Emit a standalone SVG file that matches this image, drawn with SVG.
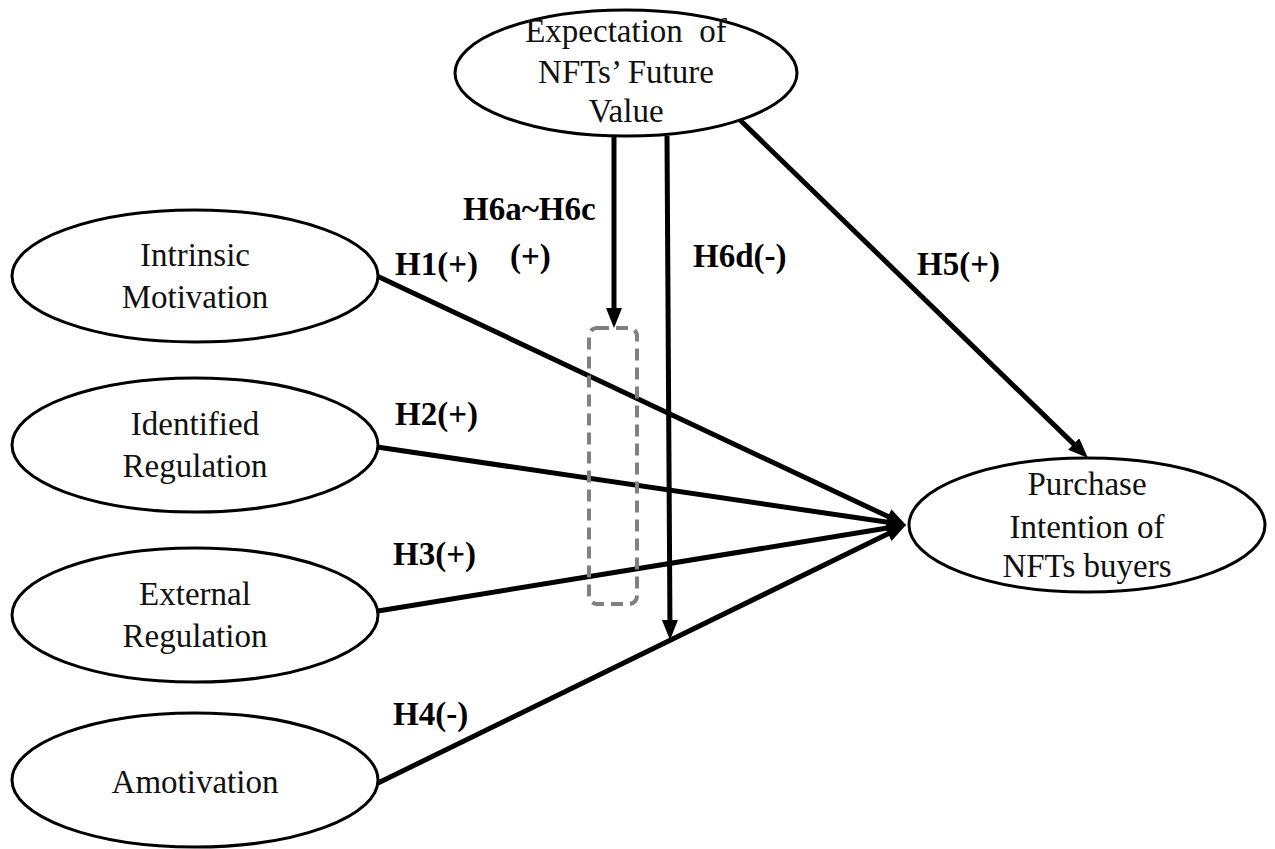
<svg xmlns="http://www.w3.org/2000/svg" width="1275" height="849" viewBox="0 0 1275 849">
<style>
.node ellipse{fill:#fff;stroke:#000;stroke-width:3}
.node text{font-family:'Times New Roman','Liberation Serif','DejaVu Serif',serif;font-size:33px;fill:#111;text-anchor:middle}
.lbl{font-family:'Times New Roman','Liberation Serif','DejaVu Serif',serif;font-size:33px;font-weight:bold;fill:#000}
.conn line{stroke:#000;stroke-width:5;fill:none}
</style>
<defs>
<marker id="ah" markerUnits="userSpaceOnUse" markerWidth="22" markerHeight="18" refX="12" refY="8" orient="auto">
<path d="M0,0 L20,8 L0,16 z" fill="#000"/>
</marker>
</defs>
<rect width="1275" height="849" fill="#fff"/>
<g id="connectors" class="conn">
<line x1="377" y1="276" x2="898.8" y2="521.6" marker-end="url(#ah)"/>
<line x1="377" y1="447" x2="898.1" y2="523.8" marker-end="url(#ah)"/>
<line x1="378" y1="611" x2="898.1" y2="526.3" marker-end="url(#ah)"/>
<line x1="378" y1="783" x2="898.8" y2="528.5" marker-end="url(#ah)"/>
<line x1="740" y1="120" x2="1082.3" y2="452.4" marker-end="url(#ah)"/>
<line x1="614" y1="136" x2="614" y2="320" marker-end="url(#ah)"/>
<line x1="667" y1="136" x2="670" y2="632" marker-end="url(#ah)"/>
<rect x="589" y="328" width="48" height="276" rx="8" fill="none" stroke="#808080" stroke-width="4" stroke-dasharray="12 7"/>
</g>
<g id="expectation" class="node">
<ellipse cx="626" cy="73" rx="171" ry="63"/>
<text x="626" y="42">Expectation&#160; of</text>
<text x="626" y="83">NFTs’ Future</text>
<text x="626" y="122">Value</text>
</g>
<g id="intrinsic" class="node">
<ellipse cx="195" cy="276" rx="183" ry="66"/>
<text x="195" y="266">Intrinsic</text>
<text x="195" y="308">Motivation</text>
</g>
<g id="identified" class="node">
<ellipse cx="195" cy="445" rx="183" ry="67"/>
<text x="195" y="435">Identified</text>
<text x="195" y="477">Regulation</text>
</g>
<g id="external" class="node">
<ellipse cx="195" cy="615" rx="183" ry="67"/>
<text x="195" y="605">External</text>
<text x="195" y="647">Regulation</text>
</g>
<g id="amotivation" class="node">
<ellipse cx="195" cy="780" rx="183" ry="67"/>
<text x="195" y="793">Amotivation</text>
</g>
<g id="purchase" class="node">
<ellipse cx="1087" cy="525" rx="178" ry="67"/>
<text x="1087" y="495">Purchase</text>
<text x="1087" y="538">Intention of</text>
<text x="1087" y="577">NFTs buyers</text>
</g>
<g id="labels">
<text class="lbl" x="395" y="275">H1(+)</text>
<text class="lbl" x="395" y="425">H2(+)</text>
<text class="lbl" x="393" y="565">H3(+)</text>
<text class="lbl" x="393" y="725">H4(-)</text>
<text class="lbl" x="917" y="275">H5(+)</text>
<text class="lbl" x="463" y="220">H6a~H6c</text>
<text class="lbl" x="510" y="267">(+)</text>
<text class="lbl" x="693" y="267">H6d(-)</text>
</g>
</svg>
